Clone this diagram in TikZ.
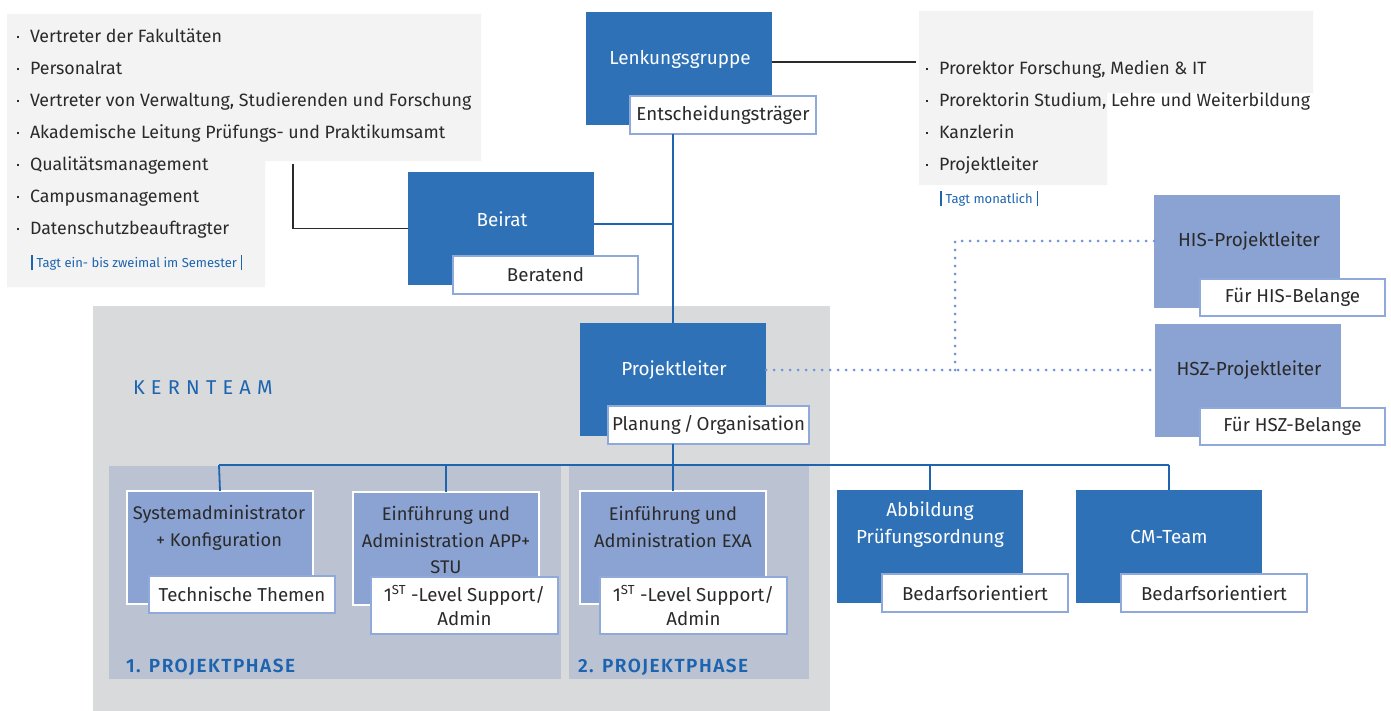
\documentclass[tikz,border=0pt]{standalone}
\usepackage{fontspec}
\setmainfont{Fira Sans}[BoldFont=* SemiBold]
\usetikzlibrary{calc}
\definecolor{dblue}{HTML}{2E71B6}
\definecolor{lblue}{HTML}{8BA3D3}
\definecolor{lbord}{HTML}{8FA9DB}
\definecolor{lineblue}{HTML}{1F64AE}
\definecolor{txtblue}{HTML}{1D64B0}
\definecolor{dotblue}{HTML}{6F93D3}
\definecolor{listgray}{HTML}{F3F3F3}
\definecolor{kern}{HTML}{D9DADC}
\definecolor{phase}{HTML}{BBC2D1}
\definecolor{txt}{HTML}{2A2A2A}
\newcommand{\mybar}{\textcolor{txtblue}{\rule[-2pt]{1.6pt}{15pt}}}
\newcommand{\mydot}{\makebox[13pt][l]{\raisebox{4.5pt}{\rule{2.4pt}{2.4pt}}}}
\begin{document}
\begin{tikzpicture}[x=1pt,y=-1pt,
  every node/.style={inner sep=0pt, outer sep=0pt},
  dbox/.style={fill=dblue, minimum width=186pt, minimum height=113pt, anchor=north west},
  lbox/.style={fill=lblue, draw=white, line width=1.5pt, minimum width=186pt, minimum height=113pt, anchor=north west},
  tagbox/.style={fill=white, draw=lbord, line width=1.2pt, anchor=north west, align=center, text=txt,
     font=\fontsize{18.7}{24}\selectfont},
  wtxt/.style={text=white, align=center, font=\fontsize{18.9}{27}\selectfont},
  ktxt/.style={text=txt, align=center, font=\fontsize{18.3}{26.5}\selectfont},
  li/.style={anchor=base west, text=txt, font=\fontsize{17.8}{20}\selectfont},
  note/.style={anchor=base west, text=txtblue, font=\fontsize{13}{14}\selectfont},
  phasetxt/.style={anchor=base west, text=txtblue, font=\bfseries\fontsize{19}{20}\selectfont\addfontfeature{LetterSpace=8}},
  blink/.style={draw=lineblue, line width=1.8pt},
  klink/.style={draw=txt, line width=1.2pt},
  dlink/.style={draw=dotblue, line width=3pt, line cap=round, dash pattern=on 0pt off 8pt}
]
\useasboundingbox (0,0) rectangle (1391,711);

% ---------- panels ----------
\fill[listgray] (7,14) -- (481,14) -- (481,161) -- (265,161) -- (265,287) -- (7,287) -- cycle;
\fill[listgray] (919,11) -- (1313,11) -- (1313,93) -- (1107,93) -- (1107,185) -- (919,185) -- cycle;
\fill[kern] (93,306) rectangle (830,711);
\fill[phase] (109,466) rectangle (561,679);
\fill[phase] (569,466) rectangle (809,679);

% ---------- left list ----------
\node[li] (l1) at (17,43) {\mydot Vertreter der Fakultäten};
\node[li] (l2) at (17,75) {\mydot Personalrat};
\node[li] (l3) at (17,107) {\mydot Vertreter von Verwaltung, Studierenden und Forschung};
\node[li] (l4) at (17,139) {\mydot Akademische Leitung Prüfungs- und Praktikumsamt};
\node[li] (l5) at (17,171) {\mydot Qualitätsmanagement};
\node[li] (l6) at (17,203) {\mydot Campusmanagement};
\node[li] (l7) at (17,235) {\mydot Datenschutzbeauftragter};
\node[note] (lnote) at (31,268) {\mybar\hspace{4pt}Tagt ein- bis zweimal im Semester\hspace{4pt}\mybar};

% ---------- right list ----------
\node[li] (r1) at (926,75) {\mydot Prorektor Forschung, Medien \& IT};
\node[li] (r2) at (926,107) {\mydot Prorektorin Studium, Lehre und Weiterbildung};
\node[li] (r3) at (926,139) {\mydot Kanzlerin};
\node[li] (r4) at (926,171) {\mydot Projektleiter};
\node[note] (rnote) at (940,204) {\mybar\hspace{4pt}Tagt monatlich\hspace{4pt}\mybar};

% ---------- boxes ----------
\node[dbox] (lenk) at (586,12) {};
\node[wtxt] (lenkT) at (680,59) {Lenkungsgruppe};
\node[tagbox, minimum width=186pt, minimum height=38pt] (entsch) at (630,96) {Entscheidungsträger};

\node[dbox] (beirat) at (408,172) {};
\node[wtxt] (beiratT) at (502,219) {Beirat};
\node[tagbox, minimum width=185pt, minimum height=38pt] (berat) at (453,256) {Beratend};

\node[dbox] (proj) at (580,323) {};
\node[wtxt] (projT) at (674,370) {Projektleiter};
\node[tagbox, minimum width=201pt, minimum height=38pt] (plan) at (608,406) {Planung\,/\,Organisation};

\node[fill=lblue, minimum width=186pt, minimum height=113pt, anchor=north west] (his) at (1154,195) {};
\node[ktxt, font=\fontsize{18.9}{26.5}\selectfont] (hisT) at (1249,241) {HIS-Projektleiter};
\node[tagbox, minimum width=185pt, minimum height=37pt] (hisL) at (1200,279) {Für HIS-Belange};

\node[fill=lblue, minimum width=186pt, minimum height=113pt, anchor=north west] (hsz) at (1155,324) {};
\node[ktxt, font=\fontsize{18.9}{26.5}\selectfont] (hszT) at (1249,370) {HSZ-Projektleiter};
\node[tagbox, minimum width=185pt, minimum height=37pt] (hszL) at (1200,408) {Für HSZ-Belange};

\node[text=txtblue, anchor=west, font=\fontsize{20}{22}\selectfont\addfontfeature{LetterSpace=31}] (kernT) at (133,388) {KERNTEAM};

\node[lbox] (sys) at (127,491) {};
\node[ktxt] (sysT) at (219,528) {Systemadministrator\\+ Konfiguration};
\node[tagbox, minimum width=186pt, minimum height=37pt] (sysL) at (149,576) {Technische Themen};

\node[lbox] (app) at (353,492) {};
\node[ktxt] (appT) at (446,540) {Einführung und\\Administration APP+\\STU};
\node[tagbox, minimum width=187pt, minimum height=57pt] (appL) at (371,577) {1\textsuperscript{ST} -Level Support/\\Admin};

\node[lbox] (exa) at (580,491) {};
\node[ktxt] (exaT) at (673,527) {Einführung und\\Administration EXA};
\node[tagbox, minimum width=187pt, minimum height=57pt] (exaL) at (600,577) {1\textsuperscript{ST} -Level Support/\\Admin};

\node[dbox] (abb) at (837,490) {};
\node[wtxt] (abbT) at (930,525) {Abbildung\\Prüfungsordnung};
\node[tagbox, minimum width=186pt, minimum height=38pt] (abbL) at (882,574) {Bedarfsorientiert};

\node[dbox] (cm) at (1076,490) {};
\node[wtxt] (cmT) at (1169,537) {CM-Team};
\node[tagbox, minimum width=186pt, minimum height=38pt] (cmL) at (1121,574) {Bedarfsorientiert};

\node[phasetxt] (ph1) at (126,672) {1. PROJEKTPHASE};
\node[phasetxt] (ph2) at (578,672) {2. PROJEKTPHASE};

% ---------- connectors ----------
\coordinate (llist) at (293,164);
\coordinate (rlist) at (916,62);
\coordinate (bus) at (219,465);
\coordinate (dc) at (955,370);

\draw[klink] (llist) |- (beirat.west);
\draw[klink] (lenk.east |- rlist) -- (rlist);

\draw[blink] (proj.north |- entsch.south) -- (proj.north);
\draw[blink] (beirat.east |- 0,224) -- (proj.north |- 0,224);
\draw[blink] (proj.north |- plan.south) -- (proj.north |- bus);
\draw[blink] (bus) -- (cm.north |- bus);
\draw[blink] (bus) -- (sys.north);
\draw[blink] (app.north |- bus) -- (app.north);
\draw[blink] (exa.north |- bus) -- (exa.north);
\draw[blink] (abb.north |- bus) -- (abb.north);
\draw[blink] (cm.north |- bus) -- (cm.north);

\draw[dlink] (proj.east |- projT) -- (hsz.west |- projT);
\draw[dlink] (dc) |- (his.west |- hisT);
\end{tikzpicture}
\end{document}
